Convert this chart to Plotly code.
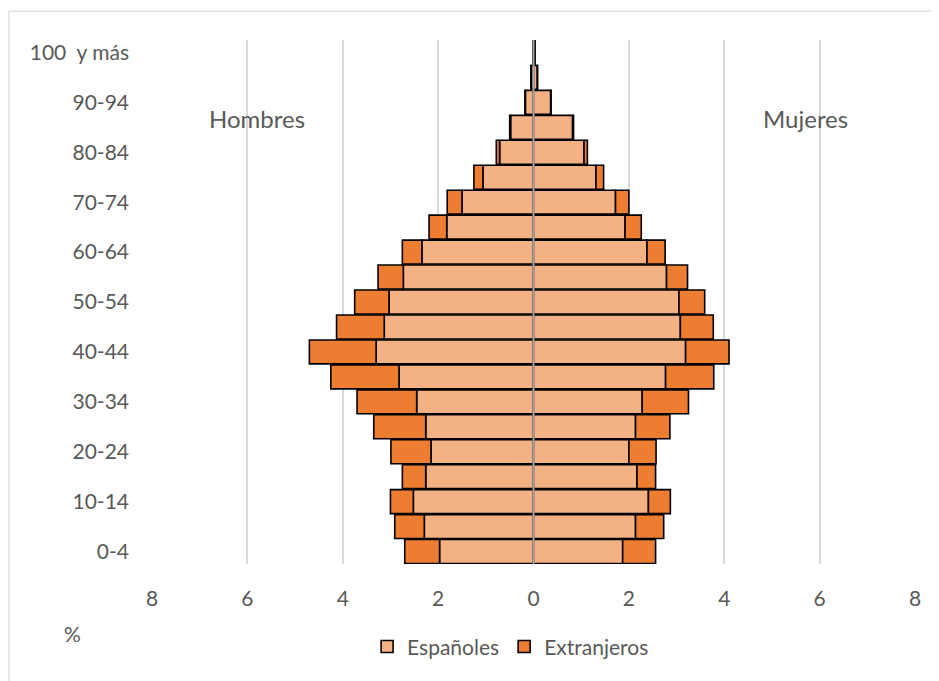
import plotly.graph_objects as go

ages = ["0-4", "5-9", "10-14", "15-19", "20-24", "25-29", "30-34", "35-39", "40-44",
        "45-49", "50-54", "55-59", "60-64", "65-69", "70-74", "75-79", "80-84",
        "85-89", "90-94", "95-99", "100  y más"]

hombres_esp = [1.97, 2.29, 2.52, 2.26, 2.15, 2.26, 2.45, 2.82, 3.30, 3.13, 3.03,
               2.73, 2.34, 1.82, 1.50, 1.06, 0.71, 0.48, 0.17, 0.05, 0.01]
hombres_ext = [0.73, 0.62, 0.48, 0.49, 0.84, 1.09, 1.25, 1.43, 1.40, 1.00, 0.72,
               0.53, 0.41, 0.37, 0.31, 0.19, 0.07, 0.02, 0.01, 0.005, 0.0]
mujeres_esp = [1.87, 2.14, 2.41, 2.17, 2.00, 2.14, 2.28, 2.77, 3.19, 3.08, 3.05,
               2.79, 2.38, 1.92, 1.72, 1.31, 1.06, 0.82, 0.36, 0.08, 0.03]
mujeres_ext = [0.69, 0.59, 0.46, 0.39, 0.57, 0.72, 0.97, 1.01, 0.91, 0.69, 0.54,
               0.44, 0.38, 0.34, 0.28, 0.16, 0.07, 0.02, 0.01, 0.005, 0.0]

x_ticks = [-8, -6, -4, -2, 0, 2, 4, 6, 8]
x_ticktext = ["8", "6", "4", "2", "0", "2", "4", "6", "8"]
y_tickvals = ages[::2]
y_ticktext = [a.replace("  ", " \u00a0") for a in y_tickvals]

C_ESP = "#F4B183"
C_EXT = "#ED7D31"
TXT = "#595959"
FONT = "Lato"

fig = go.Figure()
line = dict(color="black", width=1.6)
fig.add_trace(go.Bar(y=ages, x=[-v for v in hombres_esp], orientation="h", name="Españoles",
                     marker=dict(color=C_ESP, line=line), legendgroup="esp"))
fig.add_trace(go.Bar(y=ages, x=[-v for v in hombres_ext], orientation="h", name="Extranjeros",
                     marker=dict(color=C_EXT, line=line), legendgroup="ext"))
fig.add_trace(go.Bar(y=ages, x=mujeres_esp, orientation="h", name="Españoles",
                     marker=dict(color=C_ESP, line=line), legendgroup="esp", showlegend=False))
fig.add_trace(go.Bar(y=ages, x=mujeres_ext, orientation="h", name="Extranjeros",
                     marker=dict(color=C_EXT, line=line), legendgroup="ext", showlegend=False))

fig.update_layout(
    width=931, height=673,
    margin=dict(l=144, r=24, t=32, b=117),
    barmode="relative", bargap=0.04,
    plot_bgcolor="white", paper_bgcolor="white",
    font=dict(family=FONT, size=20, color=TXT),
    showlegend=True,
    legend=dict(orientation="h", x=0.47, y=-0.158, xanchor="center", yanchor="middle",
                font=dict(size=21, color=TXT), itemwidth=30, traceorder="normal"),
    xaxis=dict(range=[-8, 8], tickvals=x_ticks, ticktext=x_ticktext, showgrid=True,
               gridcolor="#D9D9D9", gridwidth=1.5, zeroline=False, showline=False,
               ticks="", ticklabelstandoff=20, tickfont=dict(size=21, color=TXT)),
    yaxis=dict(type="category", categoryorder="array", categoryarray=ages,
               range=[-0.5, 20.5], tickvals=y_tickvals, ticktext=y_ticktext,
               showgrid=False, zeroline=False, showline=False, ticks="",
               ticklabelstandoff=22, tickfont=dict(size=21, color=TXT)),
    shapes=[
        dict(type="line", xref="x", yref="paper", x0=0, x1=0, y0=0, y1=1,
             line=dict(color="#A6A6A6", width=2), layer="above"),
        dict(type="rect", xref="paper", yref="paper", x0=-0.1875, x1=1.045, y0=-0.25, y1=1.055,
             line=dict(color="#D9D9D9", width=1.2), layer="below"),
    ],
    annotations=[
        dict(text="Hombres", x=-5.8, y=0.851, xref="x", yref="paper", showarrow=False,
             xanchor="center", yanchor="middle",
             font=dict(size=24, color=TXT, family=FONT)),
        dict(text="Mujeres", x=5.71, y=0.851, xref="x", yref="paper", showarrow=False,
             xanchor="center", yanchor="middle",
             font=dict(size=24, color=TXT, family=FONT)),
        dict(text="%", x=-0.104, y=-0.132, xref="paper", yref="paper", showarrow=False,
             xanchor="center", yanchor="middle",
             font=dict(size=21, color=TXT, family=FONT)),
    ],
)

fig.write_html("out.html")
